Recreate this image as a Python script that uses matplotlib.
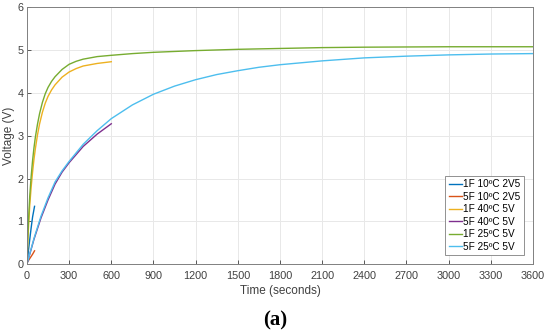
import matplotlib.pyplot as plt

plt.rcParams['font.family'] = ['Liberation Sans', 'DejaVu Sans']

# time (s) and voltage (V)
t_1f10 = [0, 10, 20, 30, 40, 54]
v_1f10 = [0, 0.3, 0.58, 0.85, 1.1, 1.35]

t_5f10 = [0, 10, 20, 30, 40, 54]
v_5f10 = [0.03, 0.08, 0.13, 0.18, 0.23, 0.31]

t_1f40 = [0, 5, 10, 20, 30, 40, 50, 60, 75, 90, 110, 130, 150, 175, 200,
          250, 300, 350, 400, 500, 600]
v_1f40 = [0, 0.45, 0.8, 1.38, 1.8, 2.15, 2.45, 2.7, 3.02, 3.28, 3.55, 3.76,
          3.92, 4.07, 4.19, 4.37, 4.49, 4.57, 4.63, 4.69, 4.73]

t_5f40 = [0, 50, 100, 150, 200, 250, 300, 400, 500, 600]
v_5f40 = [0, 0.58, 1.08, 1.5, 1.87, 2.15, 2.37, 2.75, 3.04, 3.28]

t_1f25 = [0, 5, 10, 20, 30, 40, 50, 60, 75, 90, 110, 130, 150, 175, 200,
          250, 300, 350, 400, 500, 600, 750, 900, 1200, 1500, 1800, 2100,
          2400, 2700, 3000, 3300, 3600]
v_1f25 = [0, 0.55, 0.95, 1.6, 2.05, 2.42, 2.72, 2.97, 3.27, 3.52, 3.78, 3.98,
          4.13, 4.27, 4.38, 4.55, 4.67, 4.74, 4.79, 4.85, 4.88, 4.92, 4.95,
          4.99, 5.02, 5.04, 5.06, 5.07, 5.075, 5.08, 5.08, 5.08]

t_5f25 = [0, 25, 50, 100, 150, 200, 250, 300, 400, 500, 600, 750, 900, 1050,
          1200, 1350, 1500, 1650, 1800, 2100, 2400, 2700, 3000, 3300, 3600]
v_5f25 = [0, 0.3, 0.6, 1.12, 1.55, 1.92, 2.18, 2.4, 2.8, 3.12, 3.4, 3.72,
          3.97, 4.16, 4.31, 4.43, 4.52, 4.6, 4.66, 4.75, 4.82, 4.86, 4.89,
          4.91, 4.92]

series = [
    ("1F 10ºC 2V5", t_1f10, v_1f10, "#0072BD"),
    ("5F 10ºC 2V5", t_5f10, v_5f10, "#D95319"),
    ("1F 40ºC 5V", t_1f40, v_1f40, "#EDB120"),
    ("5F 40ºC 5V", t_5f40, v_5f40, "#7E2F8E"),
    ("1F 25ºC 5V", t_1f25, v_1f25, "#77AC30"),
    ("5F 25ºC 5V", t_5f25, v_5f25, "#4DBEEE"),
]

x_ticks = list(range(0, 3601, 300))
y_ticks = [0, 1, 2, 3, 4, 5, 6]

fig = plt.figure(figsize=(5.5, 3.36), dpi=100)
ax = fig.add_axes([0.049, 0.214, 0.920, 0.764])

for label, t, v, color in series:
    ax.plot(t, v, color=color, linewidth=1.0, label=label)

ax.set_xlim(0, 3600)
ax.set_ylim(0, 6)
ax.set_xticks(x_ticks)
ax.set_yticks(y_ticks)
ax.grid(True, color="#e8e8e8", linewidth=0.7)
ax.set_axisbelow(True)
for s in ax.spines.values():
    s.set_color("#808080")
    s.set_linewidth(0.7)
ax.tick_params(labelsize=7.8, colors="#404040", length=3, width=0.6,
               direction="in")
ax.tick_params(axis="x", pad=5)
ax.tick_params(axis="y", pad=2.5)
ax.set_xlabel("Time (seconds)", fontsize=8.5, color="#404040", labelpad=3)
ax.set_ylabel("Voltage (V)", fontsize=8.5, color="#404040", labelpad=1.5)

leg = ax.legend(loc="lower right", fontsize=7.2, handlelength=1.3,
                handletextpad=0.15, borderpad=0.35, labelspacing=0.25,
                borderaxespad=0.9, fancybox=False, framealpha=1)
leg.get_frame().set_edgecolor("#808080")
leg.get_frame().set_linewidth(0.6)

fig.text(0.5, 0.045, "(a)", fontsize=15, fontweight="bold",
         family=["Liberation Serif", "DejaVu Serif"], ha="center", va="center")

fig.savefig("out.png", dpi=100)
